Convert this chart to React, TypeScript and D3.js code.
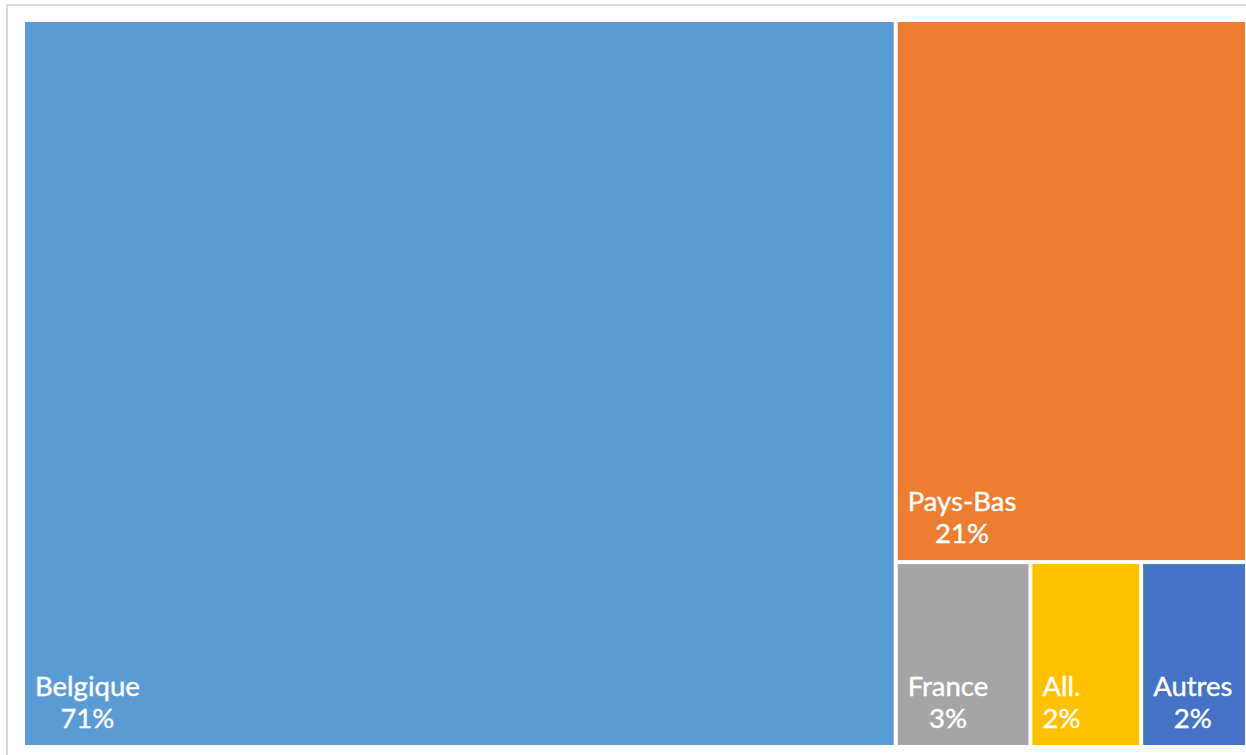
import React, { useEffect, useRef } from 'react';
import * as d3 from 'd3';

// shares (labels show rounded percentages)
const countries = ['Belgique', 'Pays-Bas', 'France', 'All.', 'Autres'];
const shares = [71.3, 21.4, 2.8, 2.3, 2.2];
const shareLabels = ['71%', '21%', '3%', '2%', '2%'];
const colors = ['#5B9BD5', '#ED7D31', '#A5A5A5', '#FFC000', '#4472C4'];

interface TNode {
  name: string;
  value?: number;
  idx?: number;
  children?: TNode[];
}

const W = 1246;
const H = 755;

const App = () => {
  const ref = useRef<SVGSVGElement>(null);

  useEffect(() => {
    const svg = d3.select(ref.current);
    svg.selectAll('*').remove();

    // outer frame of the chart area
    svg
      .append('path')
      .attr('d', `M7,${H} L7,5 L${W},5`)
      .attr('fill', 'none')
      .attr('stroke', '#d9d9d9')
      .attr('stroke-width', 2);

    const leaf = (i: number): TNode => ({ name: countries[i], value: shares[i], idx: i });
    const data: TNode = {
      name: 'root',
      children: [
        leaf(0),
        {
          name: 'rest',
          children: [
            leaf(1),
            { name: 'small', children: [leaf(2), leaf(3), leaf(4)] },
          ],
        },
      ],
    };

    const root = d3
      .hierarchy<TNode>(data)
      .sum((d) => d.value ?? 0);

    const left = 25;
    const top = 22;
    d3
      .treemap<TNode>()
      .tile(d3.treemapSliceDice)
      .size([1220, 723])
      .paddingInner(4)
      .round(false)(root);

    const g = svg.append('g').attr('transform', `translate(${left},${top})`);

    const leaves = root.leaves() as d3.HierarchyRectangularNode<TNode>[];

    const cell = g
      .selectAll('g.cell')
      .data(leaves)
      .join('g')
      .attr('class', 'cell');

    cell
      .append('rect')
      .attr('x', (d) => d.x0)
      .attr('y', (d) => d.y0)
      .attr('width', (d) => d.x1 - d.x0)
      .attr('height', (d) => d.y1 - d.y0)
      .attr('fill', (d) => colors[d.data.idx!]);

    cell.each(function (d) {
      const c = d3.select(this);
      const t = c
        .append('text')
        .attr('fill', '#fff')
        .attr('font-family', 'Lato, "Open Sans", sans-serif')
        .attr('font-size', 27.5)
        .attr('stroke', '#fff')
        .attr('stroke-width', 0.4)
        .attr('text-anchor', 'middle');
      const l1 = t.append('tspan').text(d.data.name);
      const l2 = t.append('tspan').text(shareLabels[d.data.idx!]);
      const w = Math.max(
        (l1.node() as SVGTSpanElement).getComputedTextLength(),
        (l2.node() as SVGTSpanElement).getComputedTextLength(),
      );
      const cx = d.x0 + 10 + w / 2;
      l1.attr('x', cx).attr('y', d.y1 - 49);
      l2.attr('x', cx).attr('y', d.y1 - 17);
    });
  }, []);

  return (
    <svg
      ref={ref}
      width={W}
      height={H}
      style={{ position: 'absolute', left: 0, top: 0, background: '#fff' }}
    />
  );
};

export default App;
